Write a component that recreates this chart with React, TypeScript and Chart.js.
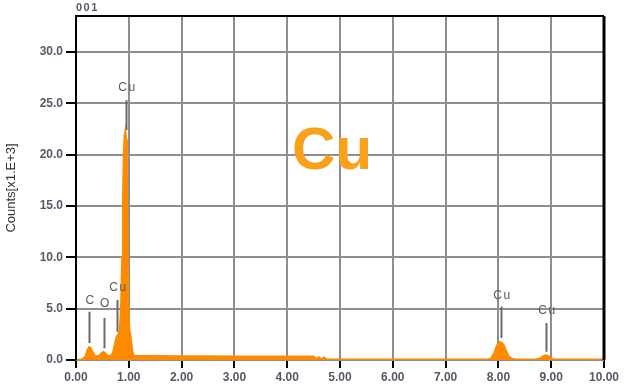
import React, { useEffect, useRef } from 'react';
import { Chart, registerables } from 'chart.js';

Chart.register(...registerables);

// Spectrum (energy in keV, counts in x1000)
const energy = [
  0.0, 0.12, 0.18, 0.22, 0.25, 0.28, 0.31, 0.35, 0.4, 0.45, 0.49, 0.52, 0.55, 0.59, 0.64,
  0.68, 0.71, 0.74, 0.77, 0.8, 0.83, 0.855, 0.875, 0.89, 0.905, 0.92, 0.935, 0.95, 0.965,
  0.98, 0.995, 1.01, 1.03, 1.05, 1.07, 1.09, 1.12, 1.5, 2.0, 2.5, 3.0, 3.5, 4.0, 4.5,
  4.55, 4.6, 4.65, 4.7, 4.74, 4.8, 4.9, 5.5, 6.0, 7.0, 7.8, 7.86, 7.92, 7.97, 8.02, 8.06,
  8.1, 8.14, 8.19, 8.25, 8.32, 8.7, 8.78, 8.84, 8.9, 8.96, 9.02, 9.1, 10.0,
];
const counts = [
  0.0, 0.05, 0.35, 1.0, 1.25, 1.15, 0.8, 0.45, 0.35, 0.45, 0.7, 0.78, 0.65, 0.45, 0.38,
  0.5, 0.9, 1.6, 2.3, 2.5, 2.9, 5.5, 10.0, 16.0, 20.0, 21.8, 22.3, 21.5, 18.0,
  11.0, 5.0, 3.0, 2.4, 1.6, 0.8, 0.45, 0.38, 0.38, 0.36, 0.36, 0.35, 0.35, 0.35, 0.33,
  0.1, 0.28, 0.08, 0.25, 0.06, 0.05, 0.05, 0.05, 0.05, 0.05, 0.05, 0.15, 0.65, 1.4, 1.75, 1.7,
  1.45, 0.95, 0.4, 0.12, 0.05, 0.05, 0.12, 0.35, 0.45, 0.35, 0.1, 0.05, 0.05,
];

const xTicks = [0, 1, 2, 3, 4, 5, 6, 7, 8, 9, 10];
const yTicks = [0, 5, 10, 15, 20, 25, 30];
const yMax = 33.5;

// Peak identification markers
const peakNames = ['C', 'O', 'Cu', 'Cu', 'Cu', 'Cu'];
const peakEnergy = [0.25, 0.53, 0.78, 0.94, 8.05, 8.9];
const markerTop = [4.7, 4.1, 5.85, 25.3, 5.2, 3.6];
const markerBottom = [1.65, 1.15, 2.75, 22.4, 2.15, 0.8];
const labelY = [5.8, 5.45, 7.0, 26.5, 6.3, 4.8];

const sampleName = '001';
const elementTitle = 'Cu';
const elementTitleX = 4.85;
const elementTitleY = 20.2;

const ORANGE = '#FF8A00';
const GRID = '#8e8e8e';
const TEXT = '#555a66';

const overlay = {
  id: 'overlay',
  afterDatasetsDraw(chart: any) {
    const { ctx, chartArea, scales } = chart;
    const xs = scales.x;
    const ys = scales.y;
    ctx.save();
    // markers
    ctx.strokeStyle = '#6a6a6a';
    ctx.lineWidth = 2;
    ctx.fillStyle = TEXT;
    ctx.font = '12px "Liberation Sans", Arial, sans-serif';
    ctx.textAlign = 'center';
    ctx.textBaseline = 'middle';
    try { (ctx as any).letterSpacing = '1.5px'; } catch (e) {}
    for (let i = 0; i < peakNames.length; i++) {
      const px = Math.round(xs.getPixelForValue(peakEnergy[i])) + 0.5;
      ctx.beginPath();
      ctx.moveTo(px, ys.getPixelForValue(markerTop[i]));
      ctx.lineTo(px, ys.getPixelForValue(markerBottom[i]));
      ctx.stroke();
      ctx.fillText(peakNames[i], px + 1, ys.getPixelForValue(labelY[i]));
    }
    // border
    ctx.strokeStyle = '#000';
    ctx.lineWidth = 2;
    ctx.beginPath();
    ctx.moveTo(chartArea.left, chartArea.bottom);
    ctx.lineTo(chartArea.left, chartArea.top);
    ctx.lineTo(chartArea.right, chartArea.top);
    ctx.stroke();
    ctx.lineWidth = 3;
    ctx.beginPath();
    ctx.moveTo(chartArea.right, chartArea.top);
    ctx.lineTo(chartArea.right, chartArea.bottom);
    ctx.stroke();
    // sample name
    ctx.fillStyle = TEXT;
    ctx.font = 'bold 11px "Liberation Sans", Arial, sans-serif';
    ctx.textAlign = 'left';
    ctx.textBaseline = 'bottom';
    ctx.fillText(sampleName, chartArea.left, chartArea.top - 3);
    // big element title
    try { (ctx as any).letterSpacing = '0px'; } catch (e) {}
    ctx.fillStyle = '#F9A11B';
    ctx.font = 'bold 60px "Liberation Sans", Arial, sans-serif';
    ctx.textAlign = 'center';
    ctx.textBaseline = 'middle';
    ctx.fillText(elementTitle, xs.getPixelForValue(elementTitleX), ys.getPixelForValue(elementTitleY));
    ctx.restore();
  },
};

export default function App() {
  const ref = useRef<HTMLCanvasElement | null>(null);
  useEffect(() => {
    if (!ref.current) return;
    const chart = new Chart(ref.current, {
      type: 'line',
      data: {
        datasets: [
          {
            data: energy.map((e, i) => ({ x: e, y: counts[i] })),
            borderColor: ORANGE,
            backgroundColor: ORANGE,
            borderWidth: 2,
            pointRadius: 0,
            fill: 'origin',
            tension: 0,
          },
        ],
      },
      options: {
        animation: false,
        responsive: false,
        layout: { padding: { top: 16, right: 21, left: 0, bottom: 0 } },
        plugins: { legend: { display: false }, tooltip: { enabled: false } },
        scales: {
          x: {
            type: 'linear',
            min: 0,
            max: 10,
            afterBuildTicks: (s: any) => {
              s.ticks = xTicks.map((v) => ({ value: v }));
            },
            afterFit: (s: any) => {
              s.height = 30;
            },
            ticks: {
              callback: (v: any) => Number(v).toFixed(2),
              color: TEXT,
              font: { family: '"Liberation Sans", Arial, sans-serif', size: 12, weight: 'bold' },
              padding: 2,
              maxRotation: 0,
            },
            grid: { color: GRID, lineWidth: 2, tickColor: '#000', tickLength: 8 },
            border: { display: false },
          },
          y: {
            type: 'linear',
            min: 0,
            max: yMax,
            afterBuildTicks: (s: any) => {
              s.ticks = yTicks.map((v) => ({ value: v }));
            },
            afterFit: (s: any) => {
              s.width = 76;
            },
            ticks: {
              callback: (v: any) => Number(v).toFixed(1),
              color: TEXT,
              font: { family: '"Liberation Sans", Arial, sans-serif', size: 12, weight: 'bold' },
              padding: 3,
            },
            grid: { color: GRID, lineWidth: 2, tickColor: '#000', tickLength: 10 },
            border: { display: false },
            title: {
              display: true,
              text: 'Counts[x1.E+3]',
              color: '#333',
              font: { family: '"Liberation Sans", Arial, sans-serif', size: 13 },
              padding: { top: 4, bottom: 0 },
            },
          },
        },
      },
      plugins: [overlay],
    });
    return () => chart.destroy();
  }, []);
  return (
    <div style={{ position: 'fixed', left: 0, top: 0, width: 625, height: 390, background: '#fff' }}>
      <canvas ref={ref} width={625} height={390} />
    </div>
  );
}
